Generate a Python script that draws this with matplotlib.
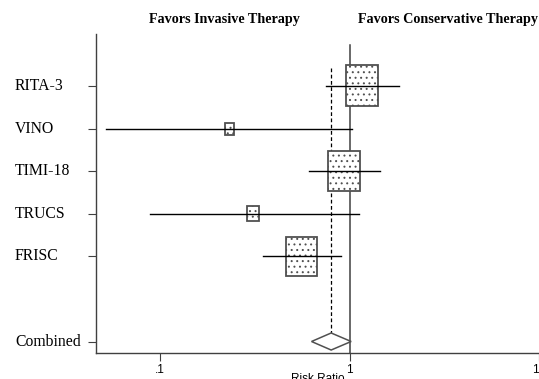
import numpy as np
import matplotlib.pyplot as plt
from matplotlib.patches import Rectangle, Polygon
from matplotlib.transforms import blended_transform_factory

# study estimates (risk ratio, 95% CI) and weights (%)
studies = ["RITA-3", "VINO", "TIMI-18", "TRUCS", "FRISC"]
rr = [1.16, 0.233, 0.94, 0.31, 0.56]
ci_lo = [0.75, 0.052, 0.61, 0.089, 0.35]
ci_hi = [1.82, 1.03, 1.45, 1.12, 0.90]
weights = [32.2, 2.8, 31.6, 4.3, 29.1]

combined_label = "Combined"
combined_rr = 0.80
combined_lo = 0.63
combined_hi = 1.02

xticks = [0.1, 1, 10]
xticklabels = [".1", "1", "10"]

plt.rcParams["hatch.linewidth"] = 0.7

fig = plt.figure(figsize=(5.39, 3.79), dpi=100)
W, H = 539, 379
ax = fig.add_axes([96 / W, 1 - 353 / H, 1 - 96 / W, (353 - 34) / H])
ax.set_xscale("log")
ax.set_xlim(10 ** -1.338, 10 ** 0.99)
ax.set_ylim(6.27, -1.22)

# pixel -> data scale for box sizes
dec_px = 190.0
row_px = 42.6

rows = np.arange(len(studies))
for i, (m, lo, hi, w) in enumerate(zip(rr, ci_lo, ci_hi, weights)):
    h_px = 72.3 * np.sqrt(w / 100)
    w_px = 0.79 * h_px
    half_dec = w_px / 2 / dec_px
    x0 = m / 10 ** half_dec
    x1 = m * 10 ** half_dec
    hh = h_px / row_px / 2
    ax.add_patch(Rectangle((x0, i - hh), x1 - x0, 2 * hh, facecolor="white",
                           edgecolor="#505050", hatch="...", lw=1.3, zorder=2))
    ax.plot([lo, hi], [i, i], color="black", lw=1.0, zorder=3)

crow = len(studies) + 1
dh = 0.2
ax.add_patch(Polygon([[combined_lo, crow], [combined_rr, crow - dh],
                      [combined_hi, crow], [combined_rr, crow + dh]],
                     closed=True, facecolor="white", edgecolor="#505050",
                     lw=1.1, zorder=3))

ax.plot([1, 1], [-0.96, 6.27], color="#404040", lw=1.1, zorder=1)
ax.plot([combined_rr, combined_rr], [-0.42, crow - dh], color="black",
        lw=0.9, ls=(0, (3, 2)), zorder=1)

for s in ["top", "right"]:
    ax.spines[s].set_visible(False)
for s in ["left", "bottom"]:
    ax.spines[s].set_color("#404040")
    ax.spines[s].set_linewidth(1.0)

ax.set_xticks(xticks)
ax.set_xticklabels(xticklabels, fontsize=8.5, family="Liberation Sans")
ax.xaxis.set_minor_locator(plt.NullLocator())
ax.tick_params(axis="x", length=6, color="#404040", pad=2)
ax.set_yticks(list(rows) + [crow])
ax.set_yticklabels([])
ax.tick_params(axis="y", length=6, color="#404040")
ax.set_xlabel("Risk Ratio", fontsize=8.5, family="Liberation Sans", labelpad=-2)

tr = blended_transform_factory(fig.transFigure, ax.transData)
for i, name in enumerate(studies + [combined_label]):
    y = i if i < len(studies) else crow
    ax.text(15 / W, y, name, transform=tr, ha="left", va="center",
            fontsize=11.3, family="Liberation Serif")

fig.text(149 / W, 1 - 20 / H, "Favors Invasive Therapy", ha="left",
         va="center", fontsize=10.2, weight="bold", family="Liberation Serif")
fig.text(358 / W, 1 - 20 / H, "Favors Conservative Therapy", ha="left",
         va="center", fontsize=10.2, weight="bold", family="Liberation Serif")

fig.savefig("out.png", dpi=100)
